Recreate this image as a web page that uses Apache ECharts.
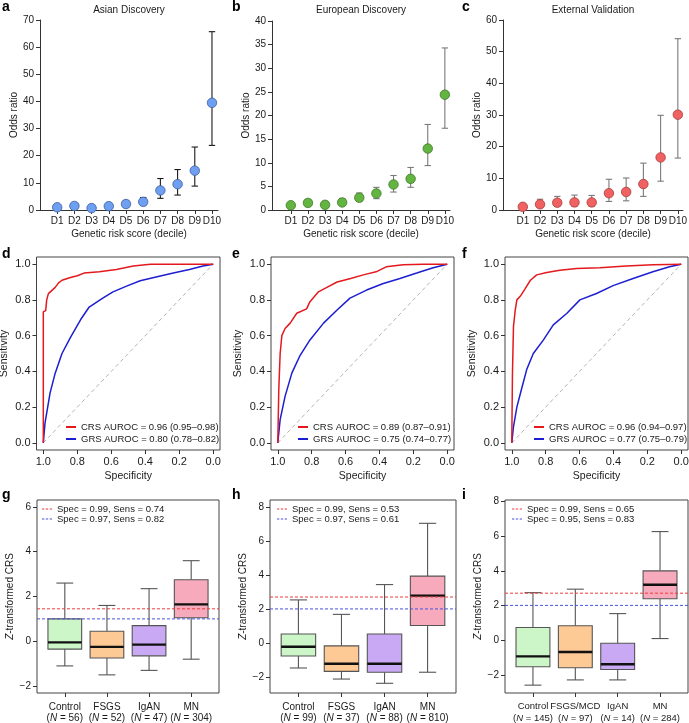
<!DOCTYPE html>
<html><head><meta charset="utf-8">
<script src="https://cdn.jsdelivr.net/npm/echarts@6.0.0/dist/echarts.min.js"></script>
<style>html,body{margin:0;padding:0;background:#fff}#c{width:689px;height:723px}</style>
</head><body><div id="c"></div>
<script>
// ---------------- DATA ----------------
const deciles = ['D1','D2','D3','D4','D5','D6','D7','D8','D9','D10'];
const decilePos = [1,2,3,4,5,6,7,8,9,10];

const asianOR = [1.0, 1.5, 0.7, 1.4, 2.2, 3.0, 7.2, 9.5, 14.5, 39.5];
const asianLo = [null, 0.9, 0.4, 0.8, 1.4, 1.9, 4.3, 5.5, 8.8, 23.8];
const asianHi = [null, 2.4, 1.5, 2.3, 3.4, 4.6, 11.6, 14.9, 23.2, 65.7];

const euroOR = [1.0, 1.5, 1.1, 1.6, 2.6, 3.5, 5.4, 6.6, 13.0, 24.4];
const euroLo = [null, 1.0, 0.7, 1.1, 1.8, 2.4, 3.8, 4.8, 9.4, 17.3];
const euroHi = [null, 2.2, 1.8, 2.4, 3.6, 4.8, 7.3, 9.0, 18.1, 34.3];

const extOR = [1.0, 1.8, 2.3, 2.4, 2.4, 5.3, 5.7, 8.2, 16.6, 30.1];
const extLo = [null, 0.9, 1.2, 1.2, 1.2, 2.7, 2.9, 4.3, 9.1, 16.4];
const extHi = [null, 3.4, 4.3, 4.7, 4.6, 9.7, 10.1, 14.8, 29.9, 54.1];

// ROC curves: [specificity, sensitivity]
const rocDcrs = [[1,0],[1,0.733],[0.986,0.74],[0.98,0.80],[0.97,0.835],[0.96,0.845],[0.93,0.87],[0.91,0.895],[0.89,0.91],[0.84,0.925],[0.80,0.935],[0.76,0.95],[0.67,0.958],[0.57,0.97],[0.47,0.99],[0.37,1.0],[0,1]];
const rocDgrs = [[1,0],[0.99,0.11],[0.96,0.28],[0.93,0.39],[0.89,0.50],[0.84,0.59],[0.78,0.69],[0.73,0.76],[0.65,0.81],[0.59,0.845],[0.51,0.877],[0.43,0.907],[0.33,0.93],[0.235,0.95],[0.14,0.97],[0.06,0.99],[0,1]];
const rocEcrs = [[1,0],[0.994,0.30],[0.986,0.50],[0.976,0.60],[0.957,0.64],[0.927,0.67],[0.888,0.725],[0.83,0.75],[0.81,0.79],[0.76,0.845],[0.71,0.87],[0.65,0.90],[0.57,0.92],[0.495,0.94],[0.42,0.957],[0.36,0.985],[0.26,0.996],[0.14,1],[0,1]];
const rocEgrs = [[1,0],[0.986,0.13],[0.957,0.26],[0.917,0.39],[0.868,0.49],[0.81,0.576],[0.73,0.67],[0.65,0.743],[0.574,0.81],[0.476,0.855],[0.377,0.892],[0.279,0.92],[0.18,0.95],[0.083,0.98],[0,1]];
const rocFcrs = [[1,0],[0.996,0.39],[0.99,0.65],[0.98,0.74],[0.97,0.80],[0.95,0.82],[0.92,0.864],[0.89,0.91],[0.853,0.94],[0.794,0.953],[0.716,0.966],[0.618,0.976],[0.48,0.98],[0.324,0.99],[0.167,0.996],[0,1]];
const rocFgrs = [[1,0],[0.99,0.09],[0.97,0.20],[0.94,0.31],[0.912,0.41],[0.873,0.50],[0.814,0.575],[0.755,0.66],[0.676,0.724],[0.598,0.80],[0.5,0.836],[0.402,0.88],[0.284,0.92],[0.167,0.957],[0.069,0.985],[0,1]];
const rocDiag = [[1,0],[0,1]];
const rocTicks = [0, 0.2, 0.4, 0.6, 0.8, 1.0];

const rocDnames = ['CRS AUROC = 0.96 (0.95\u20130.98)', 'GRS AUROC = 0.80 (0.78\u20130.82)'];
const rocEnames = ['CRS AUROC = 0.89 (0.87\u20130.91)', 'GRS AUROC = 0.75 (0.74\u20130.77)'];
const rocFnames = ['CRS AUROC = 0.96 (0.94\u20130.97)', 'GRS AUROC = 0.77 (0.75\u20130.79)'];

// Box plots: [low whisker, Q1, median, Q3, high whisker]
const catsG = ['Control','FSGS','IgAN','MN'];
const nG = [56, 52, 47, 304];
const boxG = [[-1.1,-0.35,-0.05,1.0,2.6],[-1.5,-0.75,-0.25,0.45,1.6],[-1.3,-0.65,-0.15,0.7,2.35],[-0.8,1.05,1.65,2.75,3.6]];
const thrG = [1.45, 1.0];
const thrNamesG = ['Spec = 0.99, Sens = 0.74', 'Spec = 0.97, Sens = 0.82'];

const catsH = ['Control','FSGS','IgAN','MN'];
const nH = [99, 37, 88, 810];
const boxH = [[-1.45,-0.75,-0.2,0.55,2.55],[-2.1,-1.65,-1.2,-0.15,1.7],[-2.35,-1.7,-1.2,0.55,3.45],[-1.7,1.05,2.8,3.95,7.05]];
const thrH = [2.72, 2.02];
const thrNamesH = ['Spec = 0.99, Sens = 0.53', 'Spec = 0.97, Sens = 0.61'];

const catsI = ['Control','FSGS/MCD','IgAN','MN'];
const nI = [145, 97, 14, 284];
const boxI = [[-2.55,-1.5,-0.9,0.75,2.75],[-2.25,-1.55,-0.65,0.85,2.95],[-2.25,-1.65,-1.35,-0.15,1.55],[0.12,2.4,3.2,4.0,6.25]];
const thrI = [2.72, 2.02];
const thrNamesI = ['Spec = 0.99, Sens = 0.65', 'Spec = 0.95, Sens = 0.83'];

const boxTicksG = [-2, 0, 2, 4, 6];
const boxTicksHI = [-2, 0, 2, 4, 6, 8];

// ---------------- STYLE ----------------
const FONT = 'Liberation Sans, Arial, sans-serif';
const TXT = '#1a1a1a';
const AX = '#333';
const boxFill = ['#ccf6c8', '#fdc995', '#c9a8f4', '#f7aabc'];
const RED = '#e4191e', BLUE = '#1c1ed2';
const FS = 10;

const grids = [], xAxes = [], yAxes = [], series = [], titles = [], legends = [];
const txt = (fs) => ({ color: TXT, fontSize: fs, fontFamily: FONT });
const minus = v => (v < 0 ? '\u2212' + Math.abs(v) : String(v));
const gridBase = { containLabel: false, outerBoundsMode: 'none' };

function letter(t, left, top) {
  titles.push({ text: t, left: left, top: top, padding: 0, textStyle: { fontSize: 14, fontWeight: 'bold', color: '#000', fontFamily: FONT } });
}

// ---------- Top row: odds ratio panels ----------
function orPanel(rect, ymax, yint, xmin, xmax, or, lo, hi, fill, border, errColor, title) {
  const gi = grids.length;
  grids.push(Object.assign({}, gridBase, rect));
  xAxes.push({
    gridIndex: gi, type: 'value', min: xmin, max: xmax,
    axisLine: { show: true, onZero: false, lineStyle: { color: AX, width: 1 } },
    axisTick: { show: true, length: 4, customValues: decilePos, lineStyle: { color: AX } },
    axisLabel: Object.assign({ customValues: decilePos, margin: 6, hideOverlap: false, showMinLabel: true, showMaxLabel: true,
      formatter: v => deciles[Math.round(v) - 1] }, txt(FS)),
    splitLine: { show: false },
    name: 'Genetic risk score (decile)', nameLocation: 'middle', nameGap: 19, nameTextStyle: txt(FS)
  });
  yAxes.push({
    gridIndex: gi, type: 'value', min: 0, max: ymax, interval: yint,
    axisLine: { show: true, onZero: false, lineStyle: { color: AX, width: 1 } },
    axisTick: { show: true, length: 4, lineStyle: { color: AX } },
    axisLabel: Object.assign({ margin: 6 }, txt(FS)),
    splitLine: { show: false },
    name: 'Odds ratio', nameLocation: 'middle', nameGap: 20, nameTextStyle: txt(FS)
  });
  titles.push({ text: title, left: rect.left + rect.width / 2, top: 5, textAlign: 'center', padding: 0, textStyle: Object.assign({ fontWeight: 'normal' }, txt(FS)) });
  const errData = [];
  decilePos.forEach((p, k) => { if (lo[k] != null) errData.push([p, lo[k], hi[k]]); });
  series.push({
    type: 'custom', xAxisIndex: gi, yAxisIndex: gi, data: errData, silent: true, z: 2,
    renderItem: function (params, api) {
      const x = api.value(0);
      const a = api.coord([x, api.value(1)]), b = api.coord([x, api.value(2)]);
      const cw = 3.2;
      const st = { stroke: errColor, lineWidth: 1.1 };
      return { type: 'group', children: [
        { type: 'line', shape: { x1: a[0], y1: a[1], x2: b[0], y2: b[1] }, style: st },
        { type: 'line', shape: { x1: a[0] - cw, y1: a[1], x2: a[0] + cw, y2: a[1] }, style: st },
        { type: 'line', shape: { x1: b[0] - cw, y1: b[1], x2: b[0] + cw, y2: b[1] }, style: st }
      ] };
    }
  });
  series.push({
    type: 'scatter', xAxisIndex: gi, yAxisIndex: gi, z: 3, symbolSize: 9.5, silent: true,
    itemStyle: { color: fill, borderColor: border, borderWidth: 0.8, opacity: 1 },
    data: or.map((v, k) => [decilePos[k], v])
  });
}

orPanel({ left: 40, top: 20, width: 178, height: 190 }, 70, 10, 0, 10.35, asianOR, asianLo, asianHi, '#6f9ff0', '#3b5e9e', '#1a1a1a', 'Asian Discovery');
orPanel({ left: 272, top: 21, width: 178, height: 189 }, 40, 5, -0.1, 10.3, euroOR, euroLo, euroHi, '#63b440', '#3b7a25', '#7a7a7a', 'European Discovery');
orPanel({ left: 503, top: 20, width: 180, height: 190 }, 60, 10, -0.15, 10.3, extOR, extLo, extHi, '#f06262', '#a83a3a', '#7a7a7a', 'External Validation');
letter('a', 2, 0); letter('b', 232, 0); letter('c', 462, 0);

// ---------- Middle row: ROC panels ----------
function rocPanel(rect, crs, grs, names, legLeft) {
  const gi = grids.length;
  grids.push(Object.assign({ show: true, borderColor: '#444', borderWidth: 1, backgroundColor: 'transparent' }, gridBase, rect));
  xAxes.push({
    gridIndex: gi, type: 'value', inverse: true, min: -0.04, max: 1.04, position: 'bottom',
    axisLine: { show: false, onZero: false },
    axisTick: { show: true, length: 4, customValues: rocTicks, lineStyle: { color: AX } },
    axisLabel: Object.assign({ customValues: rocTicks, margin: 6, showMinLabel: true, showMaxLabel: true, formatter: v => v.toFixed(1) }, txt(11)),
    splitLine: { show: false },
    name: 'Specificity', nameLocation: 'middle', nameGap: 21, nameTextStyle: txt(10.5)
  });
  yAxes.push({
    gridIndex: gi, type: 'value', min: -0.04, max: 1.04, position: 'left',
    axisLine: { show: false, onZero: false },
    axisTick: { show: true, length: 4, customValues: rocTicks, lineStyle: { color: AX } },
    axisLabel: Object.assign({ customValues: rocTicks, margin: 6, showMinLabel: true, showMaxLabel: true, formatter: v => v.toFixed(1) }, txt(11)),
    splitLine: { show: false },
    name: 'Sensitivity', nameLocation: 'middle', nameGap: 27, nameTextStyle: txt(10.5)
  });
  series.push({ type: 'line', xAxisIndex: gi, yAxisIndex: gi, data: rocDiag, showSymbol: false, silent: true,
    lineStyle: { color: '#aaaaaa', width: 0.9, type: [4, 3] }, z: 1 });
  series.push({ type: 'line', name: names[1], xAxisIndex: gi, yAxisIndex: gi, data: grs, showSymbol: false, silent: true,
    color: BLUE, lineStyle: { color: BLUE, width: 1.5 }, z: 2 });
  series.push({ type: 'line', name: names[0], xAxisIndex: gi, yAxisIndex: gi, data: crs, showSymbol: false, silent: true,
    color: RED, lineStyle: { color: RED, width: 1.5 }, z: 3 });
  legends.push({
    data: names, left: legLeft, top: 422, orient: 'vertical', icon: 'rect', itemWidth: 10, itemHeight: 2,
    itemGap: 2, padding: 0, selectedMode: false, textStyle: txt(9.5)
  });
}
rocPanel({ left: 36.5, top: 257, width: 183.5, height: 193 }, rocDcrs, rocDgrs, rocDnames, 66);
rocPanel({ left: 271, top: 257, width: 183, height: 193 }, rocEcrs, rocEgrs, rocEnames, 298);
rocPanel({ left: 505, top: 257, width: 183, height: 193 }, rocFcrs, rocFgrs, rocFnames, 534);
letter('d', 2, 247); letter('e', 232, 247); letter('f', 462, 247);

// ---------- Bottom row: box plots ----------
const dashIcon = 'path://M0,0H3V1H0Z M5,0H8V1H5Z M10,0H13V1H10Z';
const boxXmin = 0.34, boxXmax = 4.66;
function boxPanel(rect, ymin, ymax, ticks, cats, ns, boxes, thr, thrNames, legLeft, catFs) {
  const gi = grids.length;
  grids.push(Object.assign({ show: true, borderColor: '#444', borderWidth: 1, backgroundColor: 'transparent' }, gridBase, rect));
  const pos = [1, 2, 3, 4];
  // blank end labels keep the min/max-label overlap check away from the real category labels
  const labelVals = [boxXmin].concat(pos, [boxXmax]);
  xAxes.push({
    gridIndex: gi, type: 'value', min: boxXmin, max: boxXmax, position: 'bottom',
    axisLine: { show: false, onZero: false },
    axisTick: { show: true, length: 4, customValues: pos, lineStyle: { color: AX } },
    axisLabel: Object.assign({
      customValues: labelVals, margin: 8, lineHeight: 11.5, hideOverlap: false, showMinLabel: true, showMaxLabel: true,
      formatter: v => {
        const k = pos.indexOf(Math.round(v * 100) / 100);
        return k < 0 ? '' : cats[k] + '\n({i|N} = ' + ns[k] + ')';
      },
      rich: { i: Object.assign({ fontStyle: 'italic', lineHeight: 11.5 }, txt(catFs)) }
    }, txt(catFs)),
    splitLine: { show: false }
  });
  yAxes.push({
    gridIndex: gi, type: 'value', min: ymin, max: ymax, position: 'left',
    axisLine: { show: false, onZero: false },
    axisTick: { show: true, length: 4, customValues: ticks, lineStyle: { color: AX } },
    axisLabel: Object.assign({ customValues: ticks, margin: 6, showMinLabel: true, showMaxLabel: true, formatter: minus }, txt(FS)),
    splitLine: { show: false },
    name: '{i|Z}-transformed CRS', nameLocation: 'middle', nameGap: 19,
    nameTextStyle: Object.assign({ rich: { i: Object.assign({ fontStyle: 'italic' }, txt(FS)) } }, txt(FS))
  });
  series.push({
    type: 'custom', xAxisIndex: gi, yAxisIndex: gi, silent: true, z: 2,
    data: boxes.map((b, k) => [pos[k]].concat(b)),
    renderItem: function (params, api) {
      const x = api.value(0);
      const pl = api.coord([x, api.value(1)]), q1 = api.coord([x, api.value(2)]), md = api.coord([x, api.value(3)]),
            q3 = api.coord([x, api.value(4)]), ph = api.coord([x, api.value(5)]);
      const hw = api.size([0.8, 0])[0] / 2, cw = api.size([0.4, 0])[0] / 2;
      const cx = md[0];
      const ws = { stroke: '#555', lineWidth: 1.1 };
      return { type: 'group', children: [
        { type: 'line', shape: { x1: cx, y1: pl[1], x2: cx, y2: q1[1] }, style: ws },
        { type: 'line', shape: { x1: cx, y1: q3[1], x2: cx, y2: ph[1] }, style: ws },
        { type: 'line', shape: { x1: cx - cw, y1: pl[1], x2: cx + cw, y2: pl[1] }, style: ws },
        { type: 'line', shape: { x1: cx - cw, y1: ph[1], x2: cx + cw, y2: ph[1] }, style: ws },
        { type: 'rect', shape: { x: cx - hw, y: q3[1], width: hw * 2, height: q1[1] - q3[1] },
          style: { fill: boxFill[params.dataIndex], stroke: '#555', lineWidth: 1.1 } },
        { type: 'line', shape: { x1: cx - hw, y1: md[1], x2: cx + hw, y2: md[1] }, style: { stroke: '#111', lineWidth: 2.4 } }
      ] };
    }
  });
  const thrColors = ['#ee3b3b', '#4a52e0'];
  thr.forEach((v, k) => {
    const col = thrColors[k];
    series.push({
      type: 'custom', name: thrNames[k], xAxisIndex: gi, yAxisIndex: gi, silent: true, z: 5,
      itemStyle: { color: col }, color: col,
      data: [[boxXmin, v, boxXmax]],
      renderItem: function (params, api) {
        const a = api.coord([api.value(0), api.value(1)]), b = api.coord([api.value(2), api.value(1)]);
        return { type: 'line', shape: { x1: a[0], y1: a[1], x2: b[0], y2: b[1] },
          style: { stroke: col, lineWidth: 1, lineDash: [3, 2] } };
      }
    });
  });
  legends.push({
    data: thrNames, left: legLeft, top: 504, orient: 'vertical', icon: dashIcon, itemWidth: 10, itemHeight: 1.2,
    symbolKeepAspect: false, itemGap: 0, padding: 0, selectedMode: false, textStyle: txt(9.5)
  });
}
boxPanel({ left: 37, top: 500, width: 182, height: 193 }, -2.31, 6.31, boxTicksG, catsG, nG, boxG, thrG, thrNamesG, 42, FS);
boxPanel({ left: 270, top: 500, width: 186, height: 193 }, -2.92, 8.42, boxTicksHI, catsH, nH, boxH, thrH, thrNamesH, 277, FS);
boxPanel({ left: 505, top: 500, width: 183, height: 193 }, -3.0, 8.06, boxTicksHI, catsI, nI, boxI, thrI, thrNamesI, 512, 9.5);
letter('g', 2, 488); letter('h', 232, 488); letter('i', 462, 488);

const chart = echarts.init(document.getElementById('c'), null, { renderer: 'canvas' });
chart.setOption({
  animation: false,
  backgroundColor: '#ffffff',
  title: titles, grid: grids, xAxis: xAxes, yAxis: yAxes, legend: legends, series: series
});
</script>
</body></html>
